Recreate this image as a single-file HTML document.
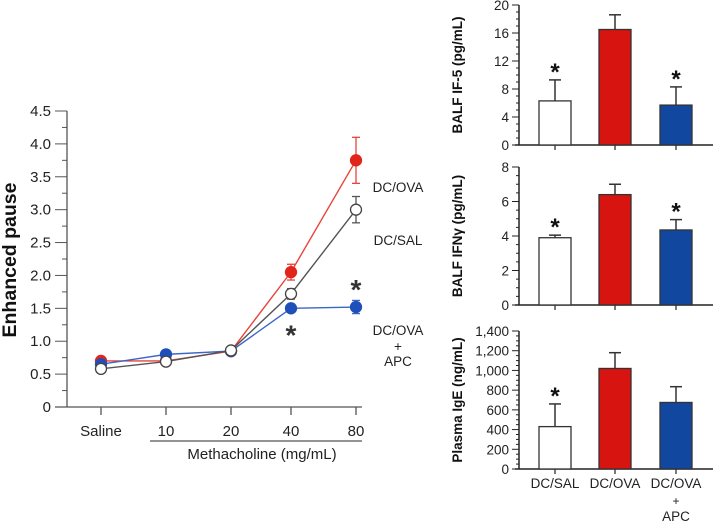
<!DOCTYPE html>
<html><head><meta charset="utf-8"><style>
body{margin:0;background:#fff}
svg{font-family:"Liberation Sans",sans-serif;display:block}
</style></head><body>
<svg id="chart" width="714" height="527" viewBox="0 0 714 527"></svg>
<script>
const NS="http://www.w3.org/2000/svg";
const svg=document.getElementById('chart');
// ---- line chart data
const doses=["Saline","10","20","40","80"];
const ovaVals=[0.7,0.7,0.85,2.05,3.75];
const ovaErr=[0,0,0,0.12,0.35];
const salVals=[0.58,0.69,0.86,1.72,3.0];
const salErr=[0,0,0,0.08,0.2];
const apcVals=[0.65,0.8,0.85,1.5,1.52];
const apcErr=[0,0,0,0.06,0.1];
const lineTicks=["0","0.5","1.0","1.5","2.0","2.5","3.0","3.5","4.0","4.5"];
// ---- bar data
const groups=["DC/SAL","DC/OVA","DC/OVA"];
const il5Vals=[6.3,16.5,5.7];
const il5Err=[3.0,2.1,2.6];
const ifnVals=[3.9,6.4,4.35];
const ifnErr=[0.15,0.6,0.6];
const igeVals=[430,1020,675];
const igeErr=[230,160,160];
const il5Ticks=[0,4,8,12,16,20];
const ifnTicks=[0,2,4,6,8];
const igeTicks=[0,200,400,600,800,1000,1200,1400];

function el(t,a,p){const e=document.createElementNS(NS,t);for(const k in a)e.setAttribute(k,a[k]);(p||svg).appendChild(e);return e;}
function txt(s,a,p){const e=el('text',a,p);e.textContent=s;return e;}

// ---- left chart
const g=el('g',{});


const y0=407,yTop=111,yMax=4.5;
const ly=v=>y0-(v/yMax)*(y0-yTop);
const xs=[101,166,231,291,356];
const lx=i=>xs[i];
el('line',{x1:67,y1:yTop,x2:67,y2:y0,stroke:'#555','stroke-width':1.3},g);
el('line',{x1:55,y1:y0,x2:362,y2:y0,stroke:'#555','stroke-width':1.3},g);
for(let i=0;i<=18;i++){const v=i*0.25,y=ly(v);el('line',{x1:i%2?62:55,y1:y,x2:67,y2:y,stroke:'#555','stroke-width':1},g);}
lineTicks.forEach((t,i)=>{const e=txt(t,{x:51,y:ly(i*0.5)+5,'text-anchor':'end','font-size':15,fill:'#222'},g);});
doses.forEach((d,i)=>{el('line',{x1:lx(i),y1:y0,x2:lx(i),y2:y0+8,stroke:'#555','stroke-width':1.3},g);const e=txt(d,{x:lx(i),y:y0+29,'text-anchor':'middle','font-size':15,fill:'#222'},g);});
el('line',{x1:150,y1:441,x2:362,y2:441,stroke:'#555','stroke-width':1.2},g);
const xt=txt('Methacholine (mg/mL)',{x:262,y:459,'text-anchor':'middle','font-size':15,fill:'#222'},g);

const yt=txt('Enhanced pause',{x:0,y:0,transform:'translate(16,260) rotate(-90)','text-anchor':'middle','font-size':19.5,'font-weight':'bold',fill:'#111'},g);

function series(vals,err,color,fill,name){
  const sg=el('g',{},g);
  
  
  el('polyline',{points:vals.map((v,i)=>lx(i)+','+ly(v)).join(' '),fill:'none',stroke:color,'stroke-width':1.4},sg);
  vals.forEach((v,i)=>{if(err[i]>0){const a=ly(v+err[i]),b=ly(v-err[i]);el('line',{x1:lx(i),y1:a,x2:lx(i),y2:b,stroke:color,'stroke-width':1.3},sg);el('line',{x1:lx(i)-4,y1:a,x2:lx(i)+4,y2:a,stroke:color,'stroke-width':1.3},sg);el('line',{x1:lx(i)-4,y1:b,x2:lx(i)+4,y2:b,stroke:color,'stroke-width':1.3},sg);}
  const c=el('circle',{cx:lx(i),cy:ly(v),r:5.5,fill:fill,stroke:fill==='#fff'?'#444':fill,'stroke-width':1.3},sg);
  });
}
series(ovaVals,ovaErr,'#e8443a','#e1251b','series-dc-ova');
series(apcVals,apcErr,'#3a66c4','#1f4fb8','series-dc-ova-apc');
series(salVals,salErr,'#555','#fff','series-dc-sal');
txt('*',{x:291,y:ly(1.5)+36,'text-anchor':'middle','font-size':28,'font-weight':'bold',fill:'#333'},g);
txt('*',{x:356,y:ly(1.52)-8,'text-anchor':'middle','font-size':28,'font-weight':'bold',fill:'#333'},g);
[['DC/OVA',192],['DC/SAL',245],['DC/OVA',335],['+',351],['APC',366]].forEach(([s,y])=>{const e=txt(s,{x:398,y:y,'text-anchor':'middle','font-size':13.5,fill:'#222'},g);});

// ---- bar panels
const bx=[555,615,676],bw=32,cols=['#fff','#d7140f','#1247a0'];
function panel(vals,err,ticks,base,top,title,stars,name,comma){
  const pg=el('g',{});
  
  
  const max=ticks[ticks.length-1];
  const py=v=>base-(v/max)*(base-top);
  el('line',{x1:519,y1:top,x2:519,y2:base,stroke:'#222','stroke-width':1.5},pg);
  el('line',{x1:515,y1:base,x2:713,y2:base,stroke:'#222','stroke-width':1.5},pg);
  const step=ticks[1]-ticks[0];
  for(let i=0;i<(ticks.length-1)*4+1;i++){const v=i*step/4,y=py(v);el('line',{x1:i%4?516:512,y1:y,x2:519,y2:y,stroke:'#222','stroke-width':1},pg);}
  ticks.forEach(t=>{const e=txt(comma?t.toLocaleString('en-US'):String(t),{x:509,y:py(t)+5,'text-anchor':'end','font-size':13.5,fill:'#222'},pg);});
  vals.forEach((v,i)=>{
    el('line',{x1:bx[i],y1:base,x2:bx[i],y2:base+5,stroke:'#222','stroke-width':1.2},pg);
    const a=py(v+err[i]);
    el('line',{x1:bx[i],y1:a,x2:bx[i],y2:py(v),stroke:'#333','stroke-width':1.5},pg);
    el('line',{x1:bx[i]-6,y1:a,x2:bx[i]+6,y2:a,stroke:'#333','stroke-width':1.5},pg);
    const r=el('rect',{x:bx[i]-bw/2,y:py(v),width:bw,height:base-py(v),fill:cols[i],stroke:'#333','stroke-width':1.3},pg);
    
    if(stars[i])txt('*',{x:bx[i],y:a,'text-anchor':'middle','font-size':24,'font-weight':'bold',fill:'#111'},pg);
  });
  const t=txt(title,{x:0,y:0,transform:`translate(462,${(base+top)/2}) rotate(-90)`,'text-anchor':'middle','font-size':13.5,'font-weight':'bold',fill:'#111'},pg);
  
}
panel(il5Vals,il5Err,il5Ticks,145,5,'BALF IF-5 (pg/mL)',[1,0,1],'panel-il5',false);
panel(ifnVals,ifnErr,ifnTicks,305,167,'BALF IFNγ (pg/mL)',[1,0,1],'panel-ifn-gamma',false);
panel(igeVals,igeErr,igeTicks,469,331,'Plasma IgE (ng/mL)',[1,0,0],'panel-ige',true);
groups.forEach((s,i)=>{const e=txt(s,{x:bx[i],y:488,'text-anchor':'middle','font-size':13.5,fill:'#222'});});
txt('+',{x:676,y:505,'text-anchor':'middle','font-size':12,fill:'#222'});
txt('APC',{x:676,y:521,'text-anchor':'middle','font-size':13.5,fill:'#222'});
</script>
</body></html>
